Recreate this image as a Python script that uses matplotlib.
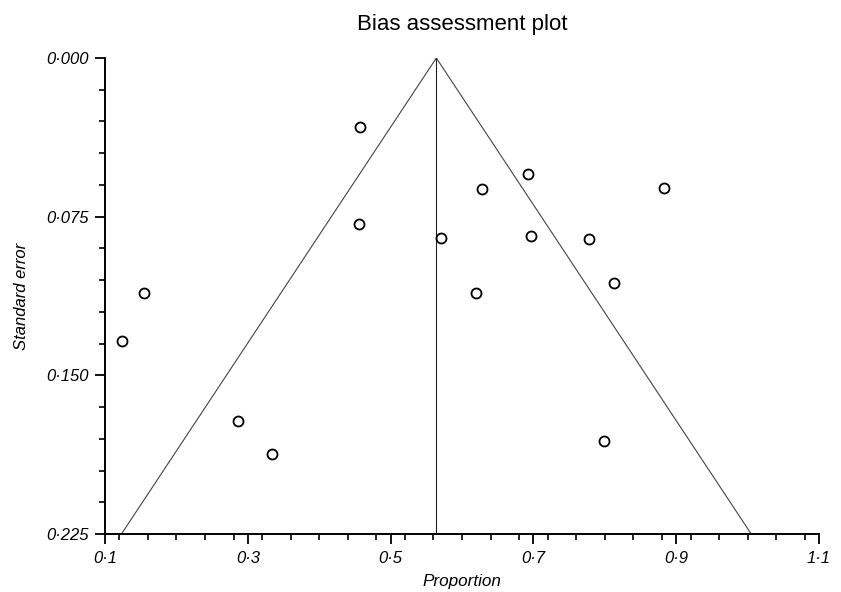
import numpy as np
import matplotlib
matplotlib.use("Agg")
import matplotlib.pyplot as plt
from matplotlib.ticker import FuncFormatter, MultipleLocator

plt.rcParams['font.family'] = ['Liberation Sans', 'DejaVu Sans']

# study estimates
proportion = [0.457, 0.455, 0.570, 0.628, 0.693, 0.697, 0.883, 0.778,
              0.813, 0.620, 0.155, 0.124, 0.286, 0.334, 0.799]
std_error = [0.0326, 0.0785, 0.0851, 0.0619, 0.0548, 0.0841, 0.0615, 0.0856,
             0.1064, 0.1111, 0.1111, 0.1338, 0.1716, 0.1872, 0.1810]
pooled = 0.564
se_max = 0.225

x_ticks = [0.1, 0.3, 0.5, 0.7, 0.9, 1.1]
y_ticks = [0.0, 0.075, 0.150, 0.225]


def dot_fmt(decimals):
    return FuncFormatter(lambda v, pos: f"{v:.{decimals}f}".replace(".", "\u00b7"))


fig = plt.figure(figsize=(8.41, 5.92), dpi=100)
ax = fig.add_axes([0.1249, 0.098, 0.849, 0.804])

# funnel limits and pooled estimate
se = np.array([0, se_max])
ax.plot(pooled - 1.96 * se, se, color="#444444", lw=0.8)
ax.plot(pooled + 1.96 * se, se, color="#444444", lw=0.8)
ax.plot([pooled, pooled], se, color="#222222", lw=0.8)

ax.plot(proportion, std_error, "o", ms=7.2, mfc="white", mec="black", mew=1.3)

ax.set_xlim(0.1, 1.1)
ax.set_ylim(se_max, 0)
ax.set_xticks(x_ticks)
ax.set_yticks(y_ticks)
ax.xaxis.set_minor_locator(MultipleLocator(0.04))
ax.yaxis.set_minor_locator(MultipleLocator(0.015))
ax.xaxis.set_major_formatter(dot_fmt(1))
ax.yaxis.set_major_formatter(dot_fmt(3))

for side in ["top", "right"]:
    ax.spines[side].set_visible(False)
for side in ["left", "bottom"]:
    ax.spines[side].set_linewidth(1.4)

ax.tick_params(which="major", length=7, width=1.3, labelsize=12, pad=5)
ax.tick_params(which="minor", length=4, width=1.2)
for lab in ax.get_xticklabels() + ax.get_yticklabels():
    lab.set_fontstyle("italic")

ax.set_xlabel("Proportion", fontsize=12.3, style="italic", labelpad=6)
ax.set_ylabel("Standard error", fontsize=12, style="italic", labelpad=12)
ax.set_title("Bias assessment plot", fontsize=16, pad=20)

fig.savefig("out.png", dpi=100)
